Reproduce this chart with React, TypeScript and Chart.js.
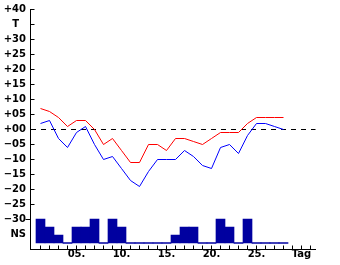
import React, { useEffect, useRef } from 'react';
import { Chart, registerables } from 'chart.js';

Chart.register(...registerables);

const days = [1, 2, 3, 4, 5, 6, 7, 8, 9, 10, 11, 12, 13, 14, 15, 16, 17, 18, 19, 20, 21, 22, 23, 24, 25, 26, 27, 28];
const tMax = [7, 6, 4, 1, 3, 3, 0, -5, -3, -7, -11, -11, -5, -5, -7, -3, -3, -4, -5, -3, -1, -1, -1, 2, 4, 4, 4, 4];
const tMin = [2, 3, -3, -6, -1, 1, -5, -10, -9, -13, -17, -19, -14, -10, -10, -10, -7, -9, -12, -13, -6, -5, -8, -2, 2, 2, 1, 0];
const rain = [3, 2, 1, 0, 2, 2, 3, 0, 3, 2, 0, 0, 0, 0, 0, 1, 2, 2, 0, 0, 3, 2, 0, 3, 0, 0, 0, 0];

const xTickDays = [1, 2, 3, 4, 5, 6, 7, 8, 9, 10, 11, 12, 13, 14, 15, 16, 17, 18, 19, 20, 21, 22, 23, 24, 25, 26, 27, 28, 29, 30, 31];
const xLabelDays = [5, 10, 15, 20, 25, 30];
const xLabels = ['05.', '10.', '15.', '20.', '25.', 'Tag'];

const yTickValues = [-40, -35, -30, -25, -20, -15, -10, -5, 0, 5, 10, 15, 20, 25, 30, 35, 40];
const yTickLabels = ['', 'NS', '\u221230', '\u221225', '\u221220', '\u221215', '\u221210', '\u221205', '+00', '+05', '+10', '+15', '+20', '+25', '+30', '\u2007T\u2007', '+40'];
const yLeftTickValues = [-30];

const noPad = (s: any) => {
  s.paddingTop = 0;
  s.paddingBottom = 0;
  s.paddingLeft = 0;
  s.paddingRight = 0;
};

export default function App() {
  const ref = useRef<HTMLCanvasElement>(null);

  useEffect(() => {
    const font = { family: 'DejaVu Sans', size: 10, weight: 'bold' as const };
    const chart = new Chart(ref.current as HTMLCanvasElement, {
      type: 'line',
      data: {
        datasets: [
          {
            type: 'line',
            label: 'Tmax',
            data: days.map((d, i) => ({ x: d, y: tMax[i] })),
            borderColor: '#ff0000',
            borderWidth: 1,
            pointRadius: 0,
            tension: 0,
            fill: false,
            yAxisID: 'y',
            order: 0,
          },
          {
            type: 'line',
            label: 'Tmin',
            data: days.map((d, i) => ({ x: d, y: tMin[i] })),
            borderColor: '#0000ff',
            borderWidth: 1,
            pointRadius: 0,
            tension: 0,
            fill: false,
            yAxisID: 'y',
            order: 0,
          },
          {
            type: 'bar',
            label: 'NS',
            data: days.map((d, i) => ({ x: d, y: rain[i] })),
            backgroundColor: '#0000a0',
            borderWidth: 0,
            barPercentage: 1,
            categoryPercentage: 1,
            minBarLength: 1,
            yAxisID: 'y2',
            order: 1,
          } as any,
        ],
      },
      options: {
        animation: false,
        responsive: false,
        events: [],
        layout: { padding: { left: 0, top: 9.5, right: 24.5, bottom: 0 } },
        plugins: { legend: { display: false }, tooltip: { enabled: false } },
        scales: {
          x: {
            type: 'linear',
            position: 'bottom',
            offset: false,
            min: -1 / 9,
            max: 31 + 5 / 9,
            afterBuildTicks: (s: any) => {
              s.ticks = xTickDays.map((v) => ({ value: v }));
            },
            afterFit: (s: any) => {
              s.height = 15.5;
              noPad(s);
            },
            grid: { drawOnChartArea: false, offset: false, tickLength: -4, tickColor: '#000', color: '#000', lineWidth: 1 },
            border: { color: '#000', width: 1 },
            ticks: {
              autoSkip: false,
              maxRotation: 0,
              padding: 3,
              color: '#000',
              font,
              callback: (v: any) => {
                const i = xLabelDays.indexOf(Number(v));
                return i >= 0 ? xLabels[i] : '';
              },
            },
          },
          y: {
            type: 'linear',
            position: 'left',
            weight: 1,
            min: -40,
            max: 40,
            afterBuildTicks: (s: any) => {
              s.ticks = yTickValues.map((v) => ({ value: v }));
            },
            afterFit: (s: any) => {
              s.width = 30.5;
              noPad(s);
            },
            grid: {
              color: (c: any) => (c.tick && c.tick.value === 0 ? '#000' : 'rgba(0,0,0,0)'),
              tickColor: (c: any) => (c.tick && c.tick.value <= -30 ? 'rgba(0,0,0,0)' : '#000'),
              tickLength: -4,
              lineWidth: 1,
            },
            border: { color: '#000', width: 1, dash: [5, 5] },
            ticks: {
              autoSkip: false,
              padding: 8.5,
              color: '#000',
              font,
              callback: (v: any) => {
                const i = yTickValues.indexOf(Number(v));
                return i >= 0 ? yTickLabels[i] : '';
              },
            },
          },
          yL: {
            type: 'linear',
            position: 'left',
            weight: 0,
            min: -40,
            max: 40,
            afterBuildTicks: (s: any) => {
              s.ticks = yLeftTickValues.map((v) => ({ value: v }));
            },
            afterFit: (s: any) => {
              s.width = 0;
              noPad(s);
            },
            grid: { drawOnChartArea: false, tickLength: 5, tickColor: '#000', color: '#000', lineWidth: 1 },
            border: { display: false },
            ticks: { display: false },
          },
          y2: {
            type: 'linear',
            display: false,
            min: -0.8125,
            max: 29.1875,
          },
        },
      } as any,
    });
    return () => {
      chart.destroy();
    };
  }, []);

  return (
    <div style={{ position: 'absolute', left: 0, top: 0, width: 340, height: 265, background: '#fff' }}>
      <canvas ref={ref} width={340} height={265} style={{ display: 'block', width: 340, height: 265 }} />
    </div>
  );
}
